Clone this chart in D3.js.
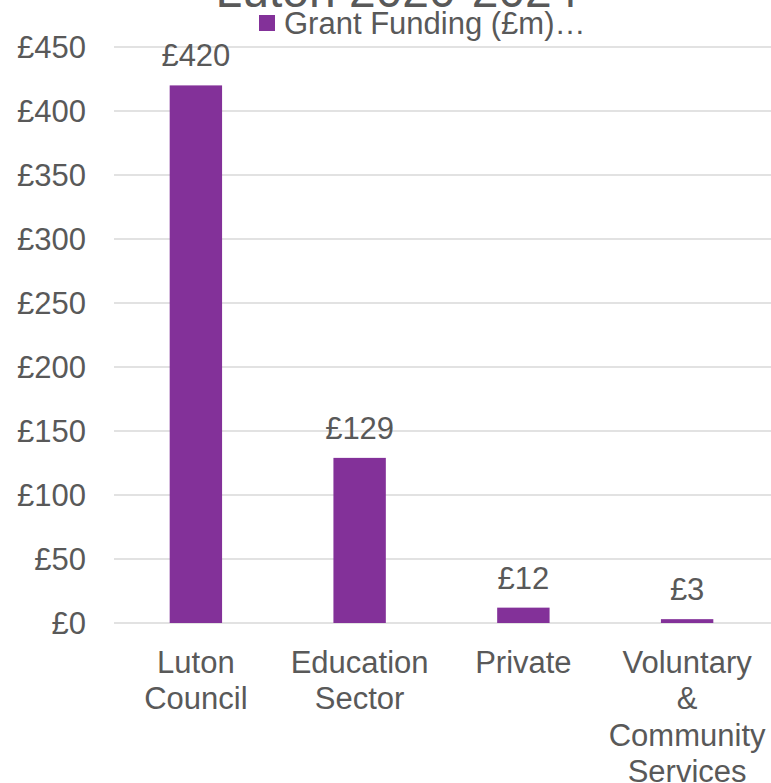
<!DOCTYPE html>
<html><head><meta charset="utf-8">
<script src="https://cdn.jsdelivr.net/npm/d3@7"></script>
<style>body{margin:0;background:#fff}svg{display:block}</style>
</head><body>
<script>
const categories = [["Luton","Council"],["Education","Sector"],["Private"],["Voluntary","&","Community","Services"]];
const values = [420, 129, 12, 3];
const dataLabels = ["£420","£129","£12","£3"];
const yTicks = [0,50,100,150,200,250,300,350,400,450];
const title = "Luton 2020-2024";
const seriesName = "Grant Funding (£m)…";

const W = 771, H = 783;
const font = "'Liberation Sans', Arial, sans-serif";
const txt = "#595959";
const barColor = "#833199";
const fs = 31;
const svg = d3.select("body").append("svg").attr("width", W).attr("height", H);

const x = d3.scaleBand().domain(d3.range(values.length)).range([114, 769]).paddingInner(0.68).paddingOuter(0.34);
const y = d3.scaleLinear().domain([0, 450]).range([623, 47]);

// gridlines
svg.append("g").selectAll("line").data(yTicks).join("line")
  .attr("x1", 114).attr("x2", W).attr("y1", d => y(d)).attr("y2", d => y(d))
  .attr("stroke", "#d9d9d9").attr("stroke-width", 1.5);

// y tick labels
svg.append("g").selectAll("text").data(yTicks).join("text")
  .attr("x", 86).attr("y", d => y(d)).attr("dy", "0.35em").attr("text-anchor", "end")
  .attr("font-family", font).attr("font-size", fs).attr("fill", txt)
  .text(d => "£" + d);

// bars
svg.append("g").selectAll("rect").data(values).join("rect")
  .attr("x", (d, i) => x(i)).attr("width", x.bandwidth())
  .attr("y", d => y(d)).attr("height", d => y(0) - y(d))
  .attr("fill", barColor);

// data labels
svg.append("g").selectAll("text").data(values).join("text")
  .attr("x", (d, i) => x(i) + x.bandwidth() / 2).attr("y", d => y(d) - 19)
  .attr("text-anchor", "middle").attr("font-family", font).attr("font-size", fs).attr("fill", txt)
  .text((d, i) => dataLabels[i]);

// category labels
const cl = svg.append("g").selectAll("text").data(categories).join("text")
  .attr("text-anchor", "middle").attr("font-family", font).attr("font-size", fs).attr("fill", txt);
cl.each(function(lines, i) {
  const t = d3.select(this);
  lines.forEach((l, j) => {
    t.append("tspan").attr("x", x(i) + x.bandwidth() / 2).attr("y", 673 + j * 36.3).text(l);
  });
});

// title (cut off at top)
svg.append("text").attr("x", 397).attr("y", 7).attr("text-anchor", "middle")
  .attr("font-family", font).attr("font-size", 48).attr("fill", txt).text(title);

// legend
svg.append("rect").attr("x", 259).attr("y", 15).attr("width", 16).attr("height", 16).attr("fill", barColor);
svg.append("text").attr("x", 284).attr("y", 23).attr("dy", "0.35em")
  .attr("font-family", font).attr("font-size", fs).attr("fill", txt).text(seriesName);
</script>
</body></html>
